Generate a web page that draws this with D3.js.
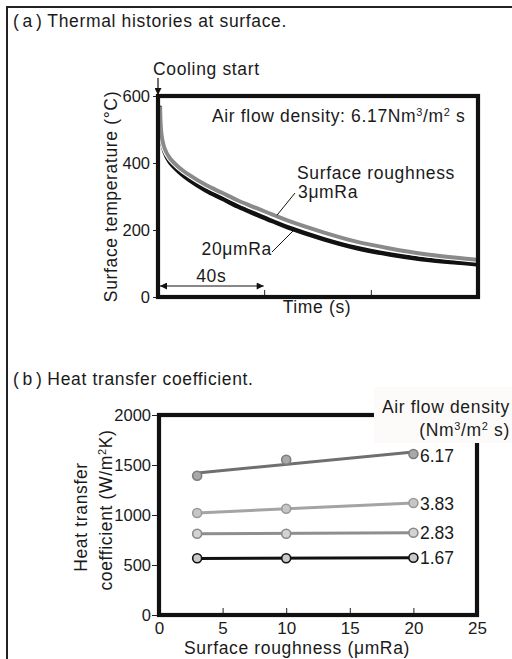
<!DOCTYPE html>
<html>
<head>
<meta charset="utf-8">
<script src="https://cdn.jsdelivr.net/npm/d3@7"></script>
<style>
  html, body { margin: 0; padding: 0; background: #fff; }
  svg { display: block; }
  text { font-family: "Liberation Sans", Arial, sans-serif; fill: #1a1a1a; }
</style>
</head>
<body>
<svg id="fig" width="512" height="659"></svg>
<script>
// ---- (a) Thermal histories at surface ----
const timeS = [0.8, 1.3, 2.5, 4.4, 8, 12, 18, 24, 30, 37, 43, 49, 62, 74, 87, 99, 112, 119.5];
const temp20 = [565, 478, 433, 403, 373, 348, 318, 294, 270, 246, 226, 207, 173, 147, 127, 113, 103, 98];
const temp3  = [568, 486, 443, 415, 386, 363, 334, 311, 288, 265, 246, 227, 193, 166, 145, 129, 117, 111];
const tempTicks = [0, 200, 400, 600];
const timeTicks = [40, 80];

// ---- (b) Heat transfer coefficient ----
const roughness = [3, 10, 20];
const airFlow = ["6.17", "3.83", "2.83", "1.67"];
const htc617 = [1393, 1553, 1610];
const htc383 = [1020, 1063, 1120];
const htc283 = [813, 813, 823];
const htc167 = [567, 567, 573];
const htcTicks = [0, 500, 1000, 1500, 2000];
const roughTicks = [0, 5, 10, 15, 20, 25];

const svg = d3.select("#fig");
const LS = "0.65px";

// outer frame
svg.append("path").attr("d", "M7,659V7H512")
  .attr("fill", "none").attr("stroke", "#222").attr("stroke-width", 2);

function title(y, tag, rest) {
  const t = svg.append("text").attr("x", 13).attr("y", y)
    .style("font-size", "17.5px").style("letter-spacing", LS);
  t.append("tspan").text("(");
  t.append("tspan").attr("dx", 3).text(tag);
  t.append("tspan").attr("dx", 3).text(")");
  t.append("tspan").attr("dx", 5).text(rest);
}
title(27, "a", "Thermal histories at surface.");
title(385, "b", "Heat transfer coefficient.");

// ================= panel (a) =================
const xA = d3.scaleLinear().domain([0, 120]).range([158, 478]);
const yA = d3.scaleLinear().domain([0, 600]).range([297, 96]);

const gA = svg.append("g");

// y ticks (outward) and labels
const axA = gA.append("g").attr("transform", `translate(${xA(0)},0)`)
  .call(d3.axisLeft(yA).tickValues(tempTicks).tickSize(5).tickPadding(3).tickFormat(d3.format("d")));
axA.select(".domain").remove();
axA.selectAll("line").attr("stroke", "#222").attr("stroke-width", 1);
axA.selectAll("text").style("font-size", "16.5px").style("font-family", "Liberation Sans, Arial, sans-serif")
  .attr("fill", "#1a1a1a").attr("dy", "0.36em");

// x ticks (inward, no labels)
gA.selectAll(".xt").data(timeTicks).join("line")
  .attr("x1", d => xA(d)).attr("x2", d => xA(d))
  .attr("y1", yA(0)).attr("y2", yA(0) - 7)
  .attr("stroke", "#222").attr("stroke-width", 1);

// cooling curves
const lineA = d3.line().x(d => xA(d[0])).y(d => yA(d[1])).curve(d3.curveCatmullRom.alpha(0.5));
const s20 = timeS.map((t, i) => [t, temp20[i]]);
const s3 = timeS.map((t, i) => [t, temp3[i]]);
gA.append("path").attr("d", lineA(s20)).attr("fill", "none")
  .attr("stroke", "#111").attr("stroke-width", 4.5).attr("stroke-linecap", "round");
gA.append("path").attr("d", lineA(s3)).attr("fill", "none")
  .attr("stroke", "#fff").attr("stroke-width", 6);
gA.append("path").attr("d", lineA(s3)).attr("fill", "none")
  .attr("stroke", "#8a8a8a").attr("stroke-width", 4);

// frame
gA.append("rect").attr("x", xA(0)).attr("y", yA(600))
  .attr("width", xA(120) - xA(0)).attr("height", yA(0) - yA(600))
  .attr("fill", "none").attr("stroke", "#111").attr("stroke-width", 4.2);

// cooling start marker
svg.append("defs").html(`
  <marker id="tri" viewBox="0 0 10 10" refX="10" refY="5" markerWidth="8" markerHeight="7" markerUnits="userSpaceOnUse" orient="auto-start-reverse">
    <path d="M0,0L10,5L0,10Z" fill="#111"/>
  </marker>`);
svg.append("line").attr("x1", xA(0)).attr("x2", xA(0)).attr("y1", 78).attr("y2", yA(600) - 1)
  .attr("stroke", "#111").attr("stroke-width", 1.2).attr("marker-end", "url(#tri)");
svg.append("text").attr("x", 153).attr("y", 75).style("font-size", "17.5px")
  .style("letter-spacing", LS).text("Cooling start");

// 40 s span arrow
svg.append("line").attr("x1", xA(0) + 2).attr("x2", xA(40) - 1).attr("y1", 286).attr("y2", 286)
  .attr("stroke", "#111").attr("stroke-width", 1.2)
  .attr("marker-start", "url(#tri)").attr("marker-end", "url(#tri)");
svg.append("text").attr("x", (xA(0) + xA(40)) / 2).attr("y", 282).attr("text-anchor", "middle")
  .style("font-size", "17.5px").style("letter-spacing", LS).text("40s");

// annotation texts
const afd = svg.append("text").attr("x", 212).attr("y", 122).style("font-size", "17.5px").style("letter-spacing", LS);
afd.append("tspan").text("Air flow density: 6.17Nm");
afd.append("tspan").attr("dy", -6).style("font-size", "11px").text("3");
afd.append("tspan").attr("dy", 6).text("/m");
afd.append("tspan").attr("dy", -6).style("font-size", "11px").text("2");
afd.append("tspan").attr("dy", 6).text(" s");

svg.append("text").attr("x", 297).attr("y", 179).style("font-size", "17.5px").style("letter-spacing", LS).text("Surface roughness");
svg.append("text").attr("x", 298).attr("y", 198).style("font-size", "17.5px").style("letter-spacing", LS).text("3μmRa");
svg.append("text").attr("x", 272).attr("y", 255).attr("text-anchor", "end").style("font-size", "17.5px").style("letter-spacing", LS).text("20μmRa");

// leader lines
svg.append("line").attr("x1", xA(44.6)).attr("y1", yA(244)).attr("x2", 295).attr("y2", 193)
  .attr("stroke", "#111").attr("stroke-width", 1);
svg.append("line").attr("x1", 272).attr("y1", 252).attr("x2", xA(51)).attr("y2", yA(200))
  .attr("stroke", "#111").attr("stroke-width", 1);

// axis titles
svg.append("text").attr("transform", `translate(${117},${(yA(0) + yA(600)) / 2}) rotate(-90)`)
  .attr("text-anchor", "middle").style("font-size", "17.5px").style("letter-spacing", LS)
  .text("Surface temperature (°C)");
svg.append("text").attr("x", 317).attr("y", 313).attr("text-anchor", "middle")
  .style("font-size", "17.5px").style("letter-spacing", LS).text("Time (s)");

// ================= panel (b) =================
const xB = d3.scaleLinear().domain([0, 25]).range([159, 477]);
const yB = d3.scaleLinear().domain([0, 2000]).range([615, 415]);
const gB = svg.append("g");

const axBy = gB.append("g").attr("transform", `translate(${xB(0)},0)`)
  .call(d3.axisLeft(yB).tickValues(htcTicks).tickSize(7).tickPadding(1).tickFormat(d3.format("d")));
axBy.select(".domain").remove();
axBy.selectAll("line").attr("stroke", "#222").attr("stroke-width", 1);
axBy.selectAll("text").style("font-size", "16.5px").style("font-family", "Liberation Sans, Arial, sans-serif")
  .attr("fill", "#1a1a1a").attr("dy", "0.36em");

const axBx = gB.append("g").attr("transform", `translate(0,${yB(0)})`)
  .call(d3.axisBottom(xB).tickValues(roughTicks).tickSize(-7).tickPadding(7).tickFormat(d3.format("d")));
axBx.select(".domain").remove();
axBx.selectAll("line").attr("stroke", "#222").attr("stroke-width", 1);
axBx.selectAll("text").style("font-size", "17px").style("font-family", "Liberation Sans, Arial, sans-serif")
  .attr("fill", "#1a1a1a");

// frame
gB.append("rect").attr("x", xB(0)).attr("y", yB(2000))
  .attr("width", xB(25) - xB(0)).attr("height", yB(0) - yB(2000))
  .attr("fill", "none").attr("stroke", "#111").attr("stroke-width", 4.2);

// series with least-squares trend lines
const seriesB = [
  { name: airFlow[0], v: htc617, line: "#6f6f6f", fill: "#a9a9a9", edge: "#7c7c7c" },
  { name: airFlow[1], v: htc383, line: "#a4a4a4", fill: "#c6c6c6", edge: "#9a9a9a" },
  { name: airFlow[2], v: htc283, line: "#8e8e8e", fill: "#d3d3d3", edge: "#8a8a8a" },
  { name: airFlow[3], v: htc167, line: "#111", fill: "#c9c9c9", edge: "#111" }
];
function fit(xs, ys) {
  const mx = d3.mean(xs), my = d3.mean(ys);
  const sxy = d3.sum(xs, (x, i) => (x - mx) * (ys[i] - my));
  const sxx = d3.sum(xs, x => (x - mx) ** 2);
  const b = sxy / sxx;
  return x => my + b * (x - mx);
}
seriesB.forEach(s => {
  const f = fit(roughness, s.v);
  const x0 = roughness[0], x1 = roughness[roughness.length - 1];
  gB.append("line").attr("x1", xB(x0)).attr("y1", yB(f(x0))).attr("x2", xB(x1)).attr("y2", yB(f(x1)))
    .attr("stroke", s.line).attr("stroke-width", 3);
  gB.selectAll(null).data(roughness.map((r, i) => [r, s.v[i]])).join("circle")
    .attr("cx", d => xB(d[0])).attr("cy", d => yB(d[1])).attr("r", 4.5)
    .attr("fill", s.fill).attr("stroke", s.edge).attr("stroke-width", 1.6);
});
const labelY = { "6.17": 462, "3.83": 510, "2.83": 539, "1.67": 564 };
seriesB.forEach(s => {
  svg.append("text").attr("x", 420).attr("y", labelY[s.name]).style("font-size", "17.5px").text(s.name);
});

// legend heading over the frame corner
svg.append("rect").attr("x", 374).attr("y", 387).attr("width", 140).attr("height", 56).attr("fill", "#fcfbf9");
svg.append("text").attr("x", 510).attr("y", 413).attr("text-anchor", "end")
  .style("font-size", "17.5px").style("letter-spacing", LS).text("Air flow density");
const lg = svg.append("text").attr("x", 510).attr("y", 436).attr("text-anchor", "end")
  .style("font-size", "17.5px").style("letter-spacing", LS);
lg.append("tspan").text("(Nm");
lg.append("tspan").attr("dy", -6).style("font-size", "11px").text("3");
lg.append("tspan").attr("dy", 6).text("/m");
lg.append("tspan").attr("dy", -6).style("font-size", "11px").text("2");
lg.append("tspan").attr("dy", 6).text(" s)");

// axis titles
svg.append("text").attr("transform", `translate(87,517) rotate(-90)`).attr("text-anchor", "middle")
  .style("font-size", "17.5px").style("letter-spacing", LS).text("Heat transfer");
const ct = svg.append("text").attr("transform", `translate(112,510) rotate(-90)`).attr("text-anchor", "middle")
  .style("font-size", "17.5px").style("letter-spacing", LS);
ct.append("tspan").text("coefficient (W/m");
ct.append("tspan").attr("dy", -6).style("font-size", "11px").text("2");
ct.append("tspan").attr("dy", 6).text("K)");
svg.append("text").attr("x", 297).attr("y", 654).attr("text-anchor", "middle")
  .style("font-size", "17.5px").style("letter-spacing", LS).text("Surface roughness (μmRa)");
</script>
</body>
</html>
